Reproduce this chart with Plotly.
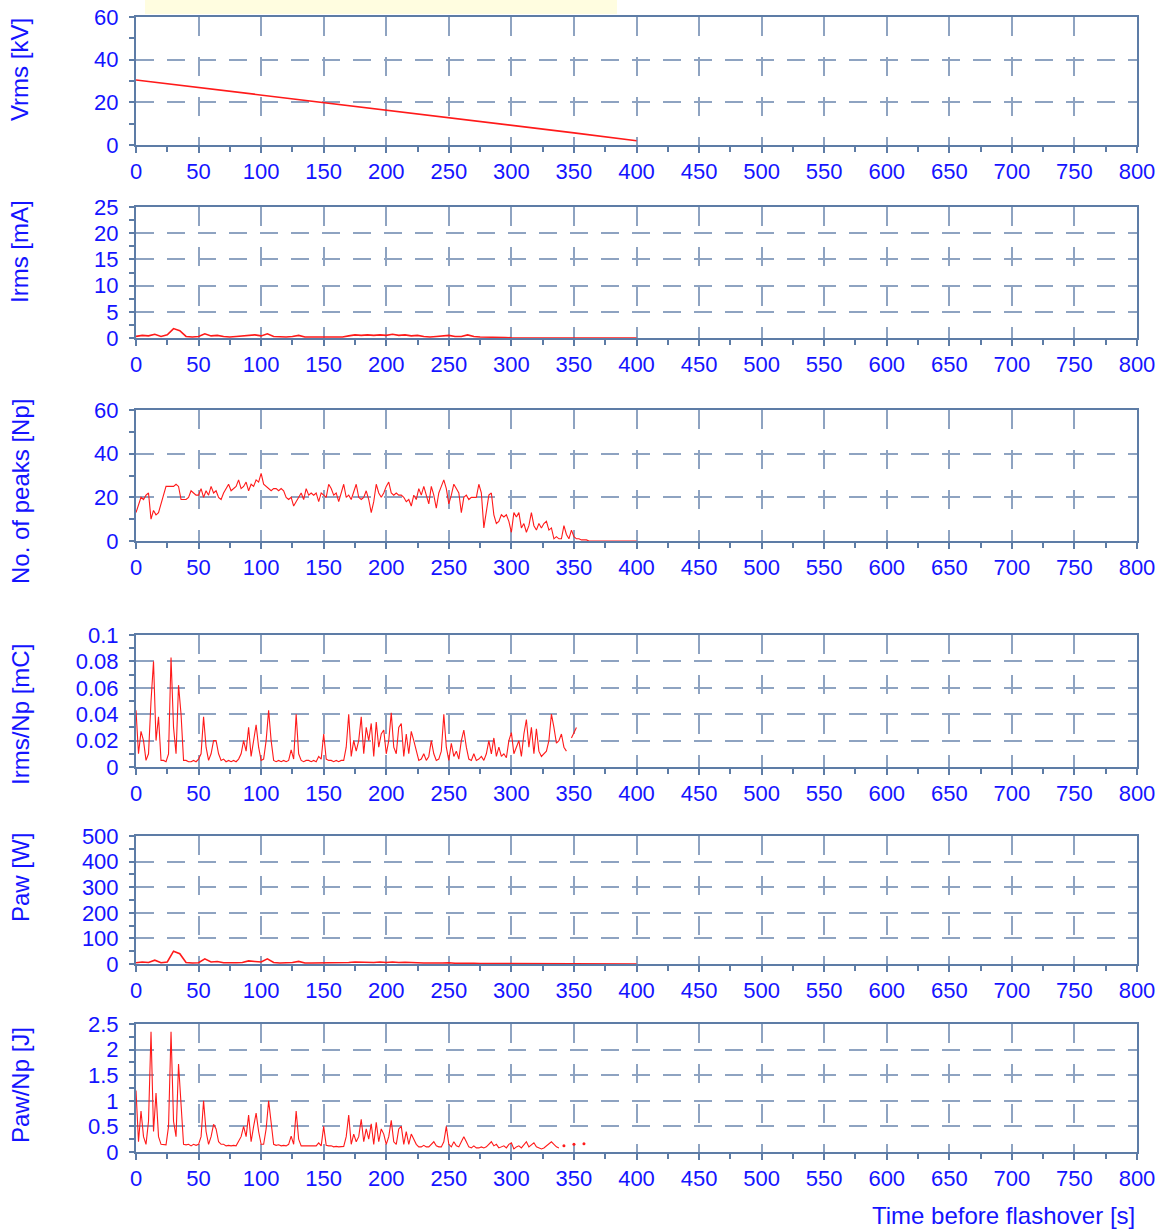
import plotly.graph_objects as go

# ---------------- data ----------------
vrms_t = [0, 50, 100, 150, 200, 250, 300, 350, 400]
vrms_kv = [30.5, 27, 23.5, 20, 16.5, 13, 9.3, 5.7, 2]

t5 = list(range(0, 405, 5))
irms_ma = [0.3, 0.5, 0.4, 0.7, 0.3, 0.6, 1.8, 1.4, 0.3, 0.2,
           0.3, 0.8, 0.4, 0.5, 0.3, 0.2, 0.3, 0.4, 0.5, 0.6,
           0.4, 0.8, 0.3, 0.2, 0.2, 0.3, 0.5, 0.2, 0.2, 0.2,
           0.3, 0.2, 0.2, 0.2, 0.4, 0.6, 0.5, 0.6, 0.5, 0.6,
           0.5, 0.7, 0.5, 0.6, 0.4, 0.5, 0.3, 0.2, 0.3, 0.4,
           0.5, 0.3, 0.3, 0.6, 0.3, 0.2, 0.2, 0.15, 0.1, 0.1,
           0.05, 0, 0, 0, 0, 0, 0, 0, 0, 0,
           0, 0, 0, 0, 0, 0, 0, 0, 0, 0,
           0]
paw_w = [5, 8, 6, 15, 5, 8, 50, 40, 6, 4,
         5, 20, 8, 10, 5, 4, 5, 6, 12, 10,
         8, 20, 6, 4, 4, 6, 10, 4, 4, 4,
         5, 4, 4, 4, 6, 8, 7, 8, 6, 8,
         6, 8, 6, 7, 5, 5, 4, 3, 4, 4,
         5, 3, 3, 5, 3, 2, 2, 1, 1, 1,
         0.5, 0, 0, 0, 0, 0, 0, 0, 0, 0,
         0, 0, 0, 0, 0, 0, 0, 0, 0, 0,
         0]

np_t = list(range(0, 402, 2))
np_peaks = [13, 17, 20, 19, 21, 22, 10, 14, 12, 13,
            17, 20, 25, 25, 25, 25, 26, 25, 19, 19,
            19, 20, 23, 22, 21, 21, 24, 20, 23, 21,
            25, 22, 23, 20, 19, 22, 24, 26, 23, 24,
            25, 28, 24, 25, 27, 23, 26, 25, 28, 27,
            31, 26, 25, 24, 23, 24, 24, 23, 24, 23,
            20, 19, 20, 16, 18, 20, 22, 19, 24, 21,
            22, 21, 22, 18, 22, 21, 20, 26, 24, 21,
            22, 18, 22, 26, 20, 21, 19, 23, 26, 20,
            19, 20, 23, 19, 13, 18, 26, 22, 20, 22,
            25, 27, 22, 21, 22, 21, 21, 20, 18, 19,
            16, 21, 19, 24, 21, 25, 21, 17, 25, 21,
            15, 22, 25, 28, 24, 17, 21, 26, 24, 22,
            13, 20, 21, 19, 20, 20, 20, 26, 22, 6,
            14, 21, 22, 12, 8, 9, 12, 11, 12, 9,
            4, 13, 11, 13, 6, 8, 4, 7, 13, 7,
            5, 8, 6, 8, 9, 5, 6, 1, 2, 1,
            1, 7, 3, 1, 5, 2, 1, 1, 0.5, 0.5,
            0.5, 0, 0, 0, 0, 0, 0, 0, 0, 0,
            0, 0, 0, 0, 0, 0, 0, 0, 0, 0,
            0]

qnp_t = list(range(0, 354, 2))
irms_np_mc = [.043, .01, .027, .02, .005, .01, .05, .08, .02, .038,
              .005, .005, .004, .01, .083, .03, .01, .062, .04, .005,
              .005, .004, .004, .005, .004, .006, .01, .038, .015, .005,
              .01, .02, .02, .01, .005, .006, .004, .005, .004, .005,
              .004, .006, .01, .02, .012, .03, .008, .02, .032, .015,
              .005, .006, .02, .043, .02, .005, .004, .005, .004, .005,
              .004, .005, .013, .006, .04, .01, .005, .004, .005, .005,
              .004, .005, .004, .008, .006, .025, .006, .005, .005, .004,
              .005, .004, .005, .005, .015, .04, .008, .02, .012, .02,
              .038, .01, .03, .02, .033, .008, .034, .015, .025, .028,
              .01, .02, .041, .015, .01, .03, .033, .008, .025, .01,
              .027, .02, .012, .005, .006, .01, .005, .008, .02, .01,
              .005, .006, .012, .04, .015, .005, .018, .008, .012, .006,
              .02, .028, .015, .006, .005, .01, .005, .006, .008, .005,
              .01, .02, .01, .022, .008, .015, .008, .01, .007, .02,
              .026, .01, .015, .02, .008, .025, .036, .015, .03, .01,
              .029, .012, .008, .01, .012, .02, .04, .03, .018, .02,
              .025, .015, .012, None, .022, .026, .03]

pnp_t = list(range(0, 340, 2))
paw_np_j = [1.2, .2, .8, .3, .15, .6, 2.35, .4, 1.15, .3,
            .15, .15, .14, .5, 2.35, .6, .3, 1.72, .8, .15,
            .14, .15, .12, .15, .13, .15, .3, 1.0, .4, .15,
            .3, .54, .45, .2, .15, .15, .12, .13, .12, .13,
            .12, .2, .3, .5, .3, .72, .2, .5, .76, .4,
            .15, .15, .45, 1.0, .5, .15, .13, .14, .12, .13,
            .12, .15, .31, .15, .8, .25, .12, .12, .13, .12,
            .12, .13, .12, .18, .12, .5, .13, .12, .12, .1,
            .11, .1, .1, .11, .3, .72, .15, .35, .2, .3,
            .64, .2, .45, .25, .55, .15, .58, .2, .45, .35,
            .15, .3, .62, .2, .15, .45, .5, .15, .4, .15,
            .35, .25, .15, .1, .1, .13, .1, .1, .15, .2,
            .12, .1, .1, .2, .5, .15, .1, .2, .12, .1,
            .2, .3, .2, .1, .08, .12, .08, .08, .1, .08,
            .1, .15, .2, .12, .15, .08, .1, .12, .08, .15,
            .18, .06, .1, .12, .08, .15, .2, .1, .15, .18,
            .1, .08, .06, .08, .12, .15, .2, .15, .1, .08]
pnp_tail_t = [342, 350, 358]
pnp_tail_j = [0.12, 0.15, 0.16]

y_titles = ["Vrms [kV]", "Irms [mA]", "No. of peaks [Np]",
            "Irms/Np [mC]", "Paw [W]", "Paw/Np [J]"]
y_ranges = [60, 25, 60, 0.1, 500, 2.5]
y_dticks = [20, 5, 20, 0.02, 100, 0.5]
x_title = "Time before flashover [s]"

# ---------------- layout ----------------
W, H = 1161, 1230
PL, PR = 136, 1137
panels = [(17, 145), (207, 338), (410, 541), (635, 767), (836, 964), (1024, 1152)]
title_centers = [70, 252, 492, 715, 878, 1085]
thick_bottom = [False, False, False, True, True, True]

FRAME = "#5d7ca6"
GRID = "#8ea3c1"
TICKBLUE = "#1414ff"
RED = "#ff1a1a"
FONT = "Liberation Sans, Arial, sans-serif"
TICKSIZE = 22
TITLESIZE = 24

fig = go.Figure()
series = [
    (vrms_t, vrms_kv, 1.6),
    (t5, irms_ma, 1.6),
    (np_t, np_peaks, 1.1),
    (qnp_t, irms_np_mc, 1.1),
    (t5, paw_w, 1.6),
    (pnp_t, paw_np_j, 1.1),
]
for i, (xs, ys, w) in enumerate(series):
    fig.add_trace(go.Scatter(x=xs, y=ys, mode="lines",
                             line=dict(color=RED, width=w),
                             connectgaps=False, showlegend=False,
                             xaxis=f"x{i+1}", yaxis=f"y{i+1}"))
fig.add_trace(go.Scatter(x=pnp_tail_t, y=pnp_tail_j, mode="markers",
                         marker=dict(color=RED, size=3), showlegend=False,
                         xaxis="x6", yaxis="y6"))

layout = dict(template="none", width=W, height=H,
              margin=dict(l=PL, r=W - PR, t=0, b=0, pad=0),
              paper_bgcolor="white", plot_bgcolor="white",
              font=dict(family=FONT, size=TICKSIZE, color=TICKBLUE))

for i in range(6):
    top, bot = panels[i]
    sfx = "" if i == 0 else str(i + 1)
    layout["xaxis" + sfx] = dict(
        domain=[0, 1], range=[0, 800], dtick=50, tick0=0,
        anchor="y" + sfx, automargin=False,
        showgrid=True, gridcolor=GRID, gridwidth=1.5, griddash="19px,21px",
        showline=True, linecolor=FRAME, linewidth=2, mirror=True,
        zeroline=False,
        ticks="outside", ticklen=6, tickcolor=FRAME, tickwidth=2,
        ticklabelstandoff=0,
        tickfont=dict(family=FONT, size=TICKSIZE, color=TICKBLUE),
        minor=dict(dtick=25, tick0=0, ticks="outside", ticklen=5,
                   tickcolor=FRAME, tickwidth=2, showgrid=False),
    )
    layout["yaxis" + sfx] = dict(
        domain=[1 - bot / H, 1 - top / H], range=[0, y_ranges[i]],
        dtick=y_dticks[i], tick0=0, anchor="x" + sfx, automargin=False,
        showgrid=True, gridcolor=GRID, gridwidth=1.5, griddash="18px,13px",
        showline=True, linecolor=FRAME, linewidth=2, mirror=True,
        zeroline=thick_bottom[i], zerolinecolor=FRAME, zerolinewidth=4,
        ticks="outside", ticklen=5, tickcolor=FRAME, tickwidth=2,
        ticklabelstandoff=6,
        tickfont=dict(family=FONT, size=TICKSIZE, color=TICKBLUE),
        minor=dict(dtick=y_dticks[i] / 2, tick0=0, ticks="outside", ticklen=5,
                   tickcolor=FRAME, tickwidth=2, showgrid=False),
    )

annotations = []
for i in range(6):
    annotations.append(dict(
        text=y_titles[i], xref="paper", yref="paper",
        x=(20 - PL) / (PR - PL), y=1 - title_centers[i] / H,
        xanchor="center", yanchor="middle", textangle=-90, showarrow=False,
        font=dict(family=FONT, size=TITLESIZE, color=TICKBLUE)))
annotations.append(dict(
    text=x_title, xref="paper", yref="paper", x=1, y=1 - 1215 / H,
    xanchor="right", yanchor="middle", showarrow=False,
    font=dict(family=FONT, size=TITLESIZE, color=TICKBLUE)))
layout["annotations"] = annotations

layout["shapes"] = [dict(type="rect", xref="paper", yref="paper",
                         x0=(145 - PL) / (PR - PL), x1=(617 - PL) / (PR - PL),
                         y0=1 - 14 / H, y1=1, fillcolor="#fffde0",
                         line=dict(width=0), layer="below")]

fig.update_layout(**layout)
fig.write_html("out.html")
